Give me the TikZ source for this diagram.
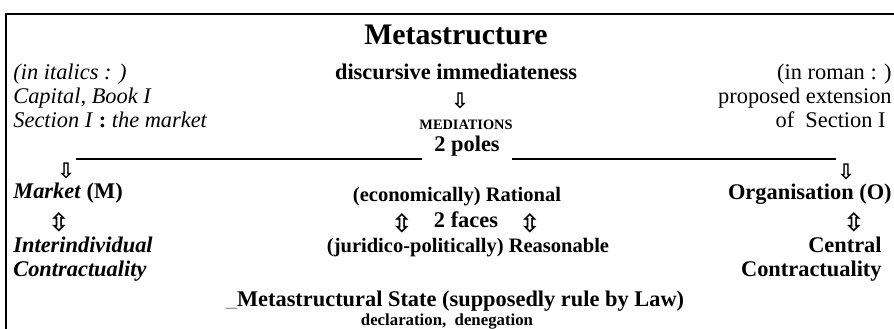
\documentclass[tikz,border=0pt]{standalone}
\usepackage{fontspec}
\setmainfont{Liberation Serif}
\newfontfamily\arrowfont{DejaVu Sans}
\usetikzlibrary{positioning}

\tikzset{
  body/.style={inner sep=0pt, font=\fontsize{12}{14}\selectfont},
  lefttext/.style={body, anchor=base west},
  righttext/.style={body, anchor=base east},
  midtext/.style={body, anchor=base},
  downarrow/.style={inner sep=0pt, font=\arrowfont\bfseries\fontsize{11.5}{12}\selectfont},
  twoarrow/.style={inner sep=0pt, font=\arrowfont\bfseries\fontsize{13.5}{14}\selectfont},
  rule/.style={line width=0.9pt},
}

\begin{document}
\begin{tikzpicture}[x=0.536pt, y=-0.536pt]
  \useasboundingbox (0,0) rectangle (894,329);
  % frame
  \draw[line width=0.6pt] (6,329) -- (6,14) -- (894,14);

  % Define nodes: middle column
  \node[midtext, font=\bfseries\fontsize{16}{19}\selectfont] (title) at (456,45) {Metastructure};
  \node[midtext, font=\bfseries\fontsize{12}{14}\selectfont] (immed) at (456,80) {discursive immediateness};
  \node[downarrow] (arrowA) at (460,101) {⇩};
  \node[midtext, font=\bfseries\fontsize{7.7}{9}\selectfont] (mediations) at (466,130) {MEDIATIONS};
  \node[midtext, font=\bfseries\fontsize{12}{14}\selectfont] (poles) at (467,152) {2 poles};

  % left column
  \node[lefttext, font=\itshape\fontsize{12}{14}\selectfont] (italics) at (13,80) {(in italics : )};
  \node[lefttext, font=\itshape\fontsize{12}{14}\selectfont] (capital) at (13,104) {Capital, Book I};
  \node[lefttext] (section) at (13,128) {\textit{Section I }\textbf{:}\textit{ the market}};

  % right column
  \node[righttext] (roman) at (892,80) {(in roman : )};
  \node[righttext] (extension) at (892,104) {proposed extension};
  \node[righttext] (ofsection) at (886,128) {of\ \ Section I};

  % the two poles
  \coordinate (lineL) at (76,159);
  \coordinate (lineR) at (836,159);
  \draw[rule] (lineL) -- ([xshift=-6.4pt]lineL -| poles.west);
  \draw[rule] (lineR) -- ([xshift=6.4pt]lineR -| poles.east);

  \node[downarrow] (arrowM) at (66,171) {⇩};
  \node[downarrow] (arrowO) at (846,172) {⇩};

  \node[lefttext, font=\bfseries\fontsize{12}{14}\selectfont] (market) at (13,199) {\textit{Market} (M)};
  \node[midtext, font=\bfseries\fontsize{11}{13}\selectfont] (rational) at (457,202) {(economically) Rational};
  \node[righttext, font=\bfseries\fontsize{12}{14}\selectfont] (organisation) at (892,200) {Organisation (O)};

  \node[twoarrow] (bothM) at (59,222) {⇳};
  \node[twoarrow] (bothL) at (402,223) {⇳};
  \node[midtext, font=\bfseries\fontsize{12}{14}\selectfont] (faces) at (466,228) {2 faces};
  \node[twoarrow] (bothR) at (530,223) {⇳};
  \node[twoarrow] (bothO) at (854,222) {⇳};

  \node[lefttext, font=\bfseries\itshape\fontsize{12}{14}\selectfont] (interind) at (13,253) {Interindividual};
  \node[lefttext, font=\bfseries\itshape\fontsize{12}{14}\selectfont] (contractL) at (13,277) {Contractuality};
  \node[midtext, font=\bfseries\fontsize{11}{13}\selectfont] (reasonable) at (468,253) {(juridico-politically) Reasonable};
  \node[righttext, font=\bfseries\fontsize{12}{14}\selectfont] (central) at (882,253) {Central};
  \node[righttext, font=\bfseries\fontsize{12}{14}\selectfont] (contractR) at (882,277) {Contractuality};

  % state
  \node[midtext, font=\bfseries\fontsize{12}{14}\selectfont] (state) at (455,307) {\textcolor{black!45}{\mdseries\_}Metastructural State (supposedly rule by Law)};
  \node[midtext, font=\bfseries\fontsize{9}{11}\selectfont] (declaration) at (447,326) {declaration,\ \ denegation};
\end{tikzpicture}
\end{document}
